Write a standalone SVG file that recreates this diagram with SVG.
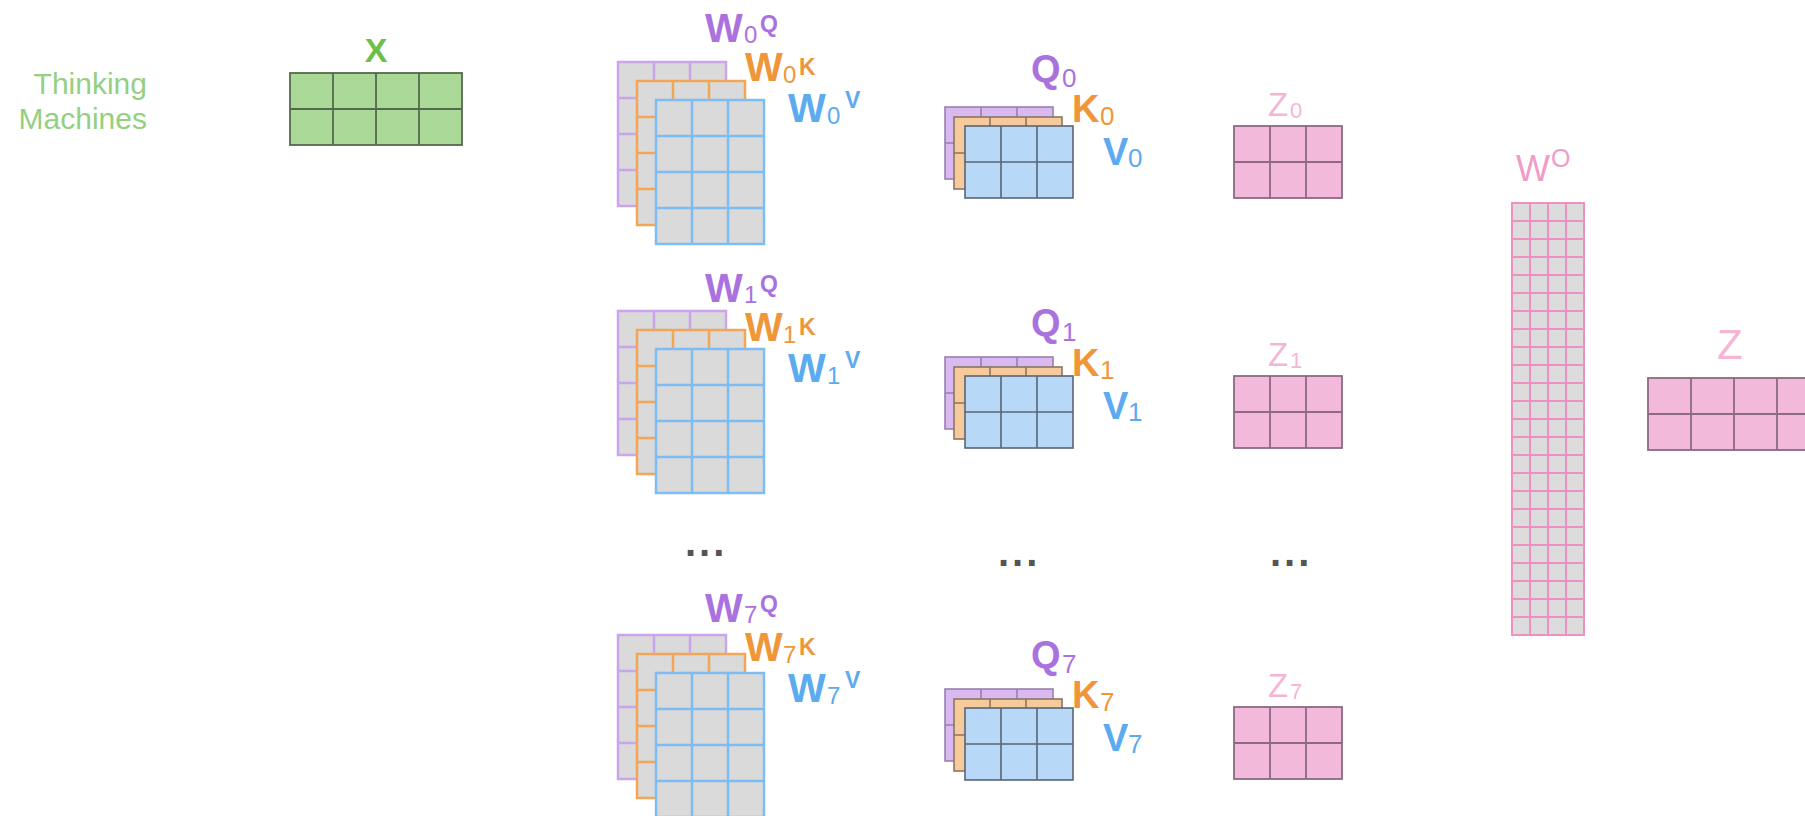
<svg xmlns="http://www.w3.org/2000/svg" xmlns:xlink="http://www.w3.org/1999/xlink" width="1805" height="816" viewBox="0 0 1805 816">
<style>
text{font-family:"Liberation Sans",Arial,Helvetica,sans-serif}
.big{font-size:40px;font-weight:bold}
.qk{font-size:38px;font-weight:bold}
.sub{font-size:24px;font-weight:normal}
.qsub{font-size:26px;font-weight:normal}
.sup{font-size:23px;font-weight:bold}
.pu{fill:#aa72de}
.or{fill:#f0963a}
.bl{fill:#5caaef}
.wp{fill:#dadada;stroke:#c9a5ec;stroke-width:2.5}
.wo{fill:#dadada;stroke:#f2a656;stroke-width:2.5}
.wb{fill:#dadada;stroke:#7dbdf4;stroke-width:2.5}
.qp{fill:#d9b9ef;stroke:#9a7fb0;stroke-width:1.6}
.qo{fill:#f6ca9b;stroke:#8a7562;stroke-width:1.6}
.qb{fill:#b8d8f7;stroke:#5a6474;stroke-width:1.6}
.zm{fill:#f2b9da;stroke:#8a6a84;stroke-width:1.8}
.xm{fill:#a9d897;stroke:#56694f;stroke-width:1.8}
.zl{fill:#f5b5d5}
.dots{font-size:40px;font-weight:bold;fill:#555;letter-spacing:3px}
</style>
<defs>
<g id="g34"><rect width="108" height="144"/><path fill="none" d="M36 0V144M72 0V144M0 36H108M0 72H108M0 108H108"/></g>
<g id="g32"><rect width="108" height="72"/><path fill="none" d="M36 0V72M72 0V72M0 36H108"/></g>
<g id="g42"><rect width="172" height="72"/><path fill="none" d="M43 0V72M86 0V72M129 0V72M0 36H172"/></g>
</defs>
<rect width="1805" height="816" fill="#ffffff"/>
<g id="connectors"/>

<g id="input">
<text x="147" y="94" text-anchor="end" font-size="30" fill="#94d07f">Thinking</text>
<text x="147" y="129" text-anchor="end" font-size="30" fill="#94d07f">Machines</text>
</g>

<g id="X">
<text x="376" y="62" text-anchor="middle" font-size="34" font-weight="bold" fill="#6cc04a">X</text>
<use xlink:href="#g42" x="290" y="73" class="xm"/>
</g>

<!-- W stacks -->
<g id="W0">
<use xlink:href="#g34" x="618" y="62" class="wp"/>
<use xlink:href="#g34" x="637" y="81" class="wo"/>
<use xlink:href="#g34" x="656" y="100" class="wb"/>
<text class="big pu"><tspan x="705" y="42">W</tspan><tspan class="sub" x="744" y="43">0</tspan><tspan class="sup" x="760" y="32">Q</tspan></text>
<text class="big or"><tspan x="745" y="81">W</tspan><tspan class="sub" x="783" y="83">0</tspan><tspan class="sup" x="799" y="75">K</tspan></text>
<text class="big bl"><tspan x="788" y="122">W</tspan><tspan class="sub" x="827" y="124">0</tspan><tspan class="sup" x="845" y="108">V</tspan></text>
</g>
<g id="W1">
<use xlink:href="#g34" x="618" y="311" class="wp"/>
<use xlink:href="#g34" x="637" y="330" class="wo"/>
<use xlink:href="#g34" x="656" y="349" class="wb"/>
<text class="big pu"><tspan x="705" y="302">W</tspan><tspan class="sub" x="744" y="303">1</tspan><tspan class="sup" x="760" y="292">Q</tspan></text>
<text class="big or"><tspan x="745" y="341">W</tspan><tspan class="sub" x="783" y="343">1</tspan><tspan class="sup" x="799" y="335">K</tspan></text>
<text class="big bl"><tspan x="788" y="382">W</tspan><tspan class="sub" x="827" y="384">1</tspan><tspan class="sup" x="845" y="368">V</tspan></text>
</g>
<g id="W7">
<use xlink:href="#g34" x="618" y="635" class="wp"/>
<use xlink:href="#g34" x="637" y="654" class="wo"/>
<use xlink:href="#g34" x="656" y="673" class="wb"/>
<text class="big pu"><tspan x="705" y="622">W</tspan><tspan class="sub" x="744" y="623">7</tspan><tspan class="sup" x="760" y="612">Q</tspan></text>
<text class="big or"><tspan x="745" y="661">W</tspan><tspan class="sub" x="783" y="663">7</tspan><tspan class="sup" x="799" y="655">K</tspan></text>
<text class="big bl"><tspan x="788" y="702">W</tspan><tspan class="sub" x="827" y="704">7</tspan><tspan class="sup" x="845" y="688">V</tspan></text>
</g>

<!-- QKV stacks -->
<g id="QKV0">
<use xlink:href="#g32" x="945" y="107" class="qp"/>
<use xlink:href="#g32" x="954" y="117" class="qo"/>
<use xlink:href="#g32" x="965" y="126" class="qb"/>
<text class="qk pu"><tspan x="1031" y="82">Q</tspan><tspan class="qsub" x="1062" y="87">0</tspan></text>
<text class="qk or"><tspan x="1072" y="122">K</tspan><tspan class="qsub" x="1100" y="125">0</tspan></text>
<text class="qk bl"><tspan x="1103" y="165">V</tspan><tspan class="qsub" x="1128" y="167">0</tspan></text>
</g>
<g id="QKV1">
<use xlink:href="#g32" x="945" y="357" class="qp"/>
<use xlink:href="#g32" x="954" y="367" class="qo"/>
<use xlink:href="#g32" x="965" y="376" class="qb"/>
<text class="qk pu"><tspan x="1031" y="336">Q</tspan><tspan class="qsub" x="1062" y="341">1</tspan></text>
<text class="qk or"><tspan x="1072" y="376">K</tspan><tspan class="qsub" x="1100" y="379">1</tspan></text>
<text class="qk bl"><tspan x="1103" y="419">V</tspan><tspan class="qsub" x="1128" y="421">1</tspan></text>
</g>
<g id="QKV7">
<use xlink:href="#g32" x="945" y="689" class="qp"/>
<use xlink:href="#g32" x="954" y="699" class="qo"/>
<use xlink:href="#g32" x="965" y="708" class="qb"/>
<text class="qk pu"><tspan x="1031" y="668">Q</tspan><tspan class="qsub" x="1062" y="673">7</tspan></text>
<text class="qk or"><tspan x="1072" y="708">K</tspan><tspan class="qsub" x="1100" y="711">7</tspan></text>
<text class="qk bl"><tspan x="1103" y="751">V</tspan><tspan class="qsub" x="1128" y="753">7</tspan></text>
</g>

<!-- Z heads -->
<g id="Z0">
<text class="zl"><tspan x="1268" y="116" font-size="33">Z</tspan><tspan x="1290" y="118" font-size="22">0</tspan></text>
<use xlink:href="#g32" x="1234" y="126" class="zm"/>
</g>
<g id="Z1">
<text class="zl"><tspan x="1268" y="366" font-size="33">Z</tspan><tspan x="1290" y="368" font-size="22">1</tspan></text>
<use xlink:href="#g32" x="1234" y="376" class="zm"/>
</g>
<g id="Z7">
<text class="zl"><tspan x="1268" y="697" font-size="33">Z</tspan><tspan x="1290" y="699" font-size="22">7</tspan></text>
<use xlink:href="#g32" x="1234" y="707" class="zm"/>
</g>

<g id="ellipses">
<text class="dots" x="685" y="556">...</text>
<text class="dots" x="998" y="566">...</text>
<text class="dots" x="1270" y="566">...</text>
</g>

<g id="WO">
<text fill="#ef9dc8"><tspan x="1516" y="181" font-size="36">W</tspan><tspan x="1551" y="167" font-size="25">O</tspan></text>
<rect x="1512" y="203" width="72" height="432" fill="#dcdcdc" stroke="#f08fc2" stroke-width="2"/>
<path fill="none" stroke="#f08fc2" stroke-width="2" d="M1530 203V635M1548 203V635M1566 203V635M1512 221H1584M1512 239H1584M1512 257H1584M1512 275H1584M1512 293H1584M1512 311H1584M1512 329H1584M1512 347H1584M1512 365H1584M1512 383H1584M1512 401H1584M1512 419H1584M1512 437H1584M1512 455H1584M1512 473H1584M1512 491H1584M1512 509H1584M1512 527H1584M1512 545H1584M1512 563H1584M1512 581H1584M1512 599H1584M1512 617H1584"/>
</g>

<g id="Z">
<text x="1717" y="359" font-size="42" fill="#f5b5d5">Z</text>
<use xlink:href="#g42" x="1648" y="378" class="zm"/>
</g>
</svg>
